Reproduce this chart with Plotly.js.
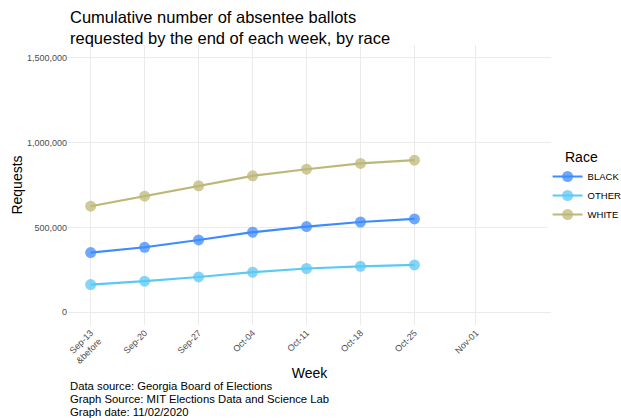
<!DOCTYPE html>
<html><head><meta charset="utf-8">
<script src="https://cdn.plot.ly/plotly-3.0.1.min.js"></script>
<style>body{margin:0;background:#fff}#c{width:621px;height:418px}</style>
</head><body><div id="c"></div><script>
const weekPos = [0,1,2,3,4,5,6];
const tickPos = [0,1,2,3,4,5,6,7.14];
const tickLabels = ["Sep-13<br>&before","Sep-20","Sep-27","Oct-04","Oct-11","Oct-18","Oct-25","Nov-01"];
const races = ["BLACK","OTHER","WHITE"];
const black = [352000,383000,426000,472000,505000,532000,550000];
const other = [163000,183000,208000,236000,258000,271000,279000];
const white = [625000,684000,745000,804000,843000,877000,896000];
const colors = ["#3D8BFF","#5BC8F5","#BDB878"];
const series = [black, other, white];
const captions = ["Data source: Georgia Board of Elections","Graph Source: MIT Elections Data and Science Lab","Graph date: 11/02/2020"];
const font = "Liberation Sans, Arial, sans-serif";
const traces = series.map((s,i)=>({
  x: weekPos, y: s, name: races[i], type: "scatter", mode: "lines+markers",
  line: {color: colors[i], width: 2.2},
  marker: {color: colors[i], size: 11, opacity: 0.75}
}));
const py = v => (325 - v) / 280;
const annotations = [
  {xref: "paper", yref: "paper", x: 0, y: py(6), xanchor: "left", yanchor: "top",
   showarrow: false, align: "left",
   text: "Cumulative number of absentee ballots<br>requested by the end of each week, by race",
   font: {size: 16.5, color: "#000"}},
  {xref: "paper", yref: "paper", x: (563-68)/483, y: py(157), xanchor: "left", yanchor: "middle",
   showarrow: false, text: "Race", font: {size: 14, color: "#000"}}
];
captions.forEach((c,i)=>annotations.push({xref: "paper", yref: "paper", x: 0, y: py(386 + 13*i),
  xanchor: "left", yanchor: "middle", showarrow: false, text: c, font: {size: 11.3, color: "#000"}}));
const layout = {
  width: 621, height: 418,
  margin: {l: 68, r: 70, t: 45, b: 93, autoexpand: false},
  paper_bgcolor: "#fff", plot_bgcolor: "#fff",
  font: {family: font, color: "#000"},
  xaxis: {range: [-0.42, 8.53], tickvals: tickPos, ticktext: tickLabels, tickangle: -45,
    showgrid: true, gridcolor: "#ebebeb", gridwidth: 1, zeroline: false, showline: false,
    ticks: "", tickfont: {size: 9, color: "#4d4d4d"}, automargin: false,
    title: {text: "Week", font: {size: 14}, standoff: 3}},
  yaxis: {range: [-75000, 1575000], tickvals: [0,500000,1000000,1500000],
    ticktext: ["0","500,000","1,000,000","1,500,000"], automargin: false,
    showgrid: true, gridcolor: "#ebebeb", gridwidth: 1, zeroline: false, showline: false,
    ticks: "", tickfont: {size: 9, color: "#4d4d4d"},
    title: {text: "Requests", font: {size: 14}, standoff: 1}},
  legend: {x: 0.993, xanchor: "left", y: py(162), yanchor: "top",
    font: {size: 9.5}, itemwidth: 30},
  showlegend: true,
  annotations: annotations
};
Plotly.newPlot("c", traces, layout, {displayModeBar: false, staticPlot: true});
</script></body></html>
